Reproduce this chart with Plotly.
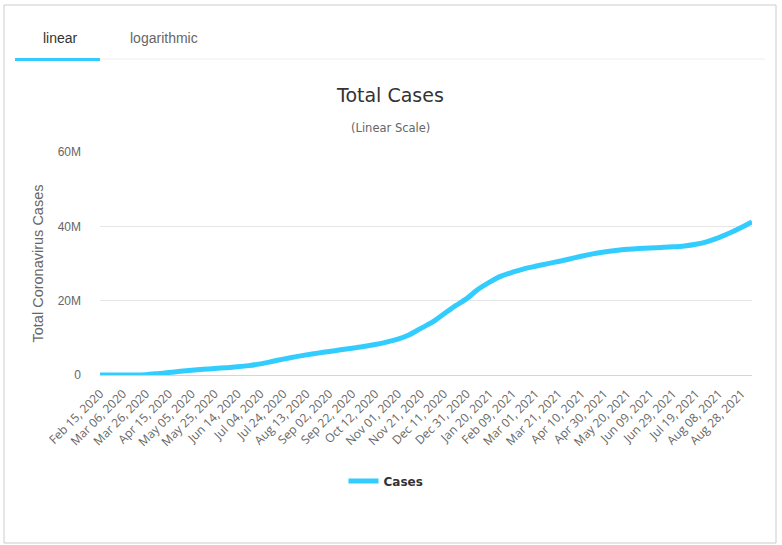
import plotly.graph_objects as go

# ---- data (millions of total cases) ----
dates = [
    "2020-02-15", "2020-02-25", "2020-03-06", "2020-03-16", "2020-03-26", "2020-04-05",
    "2020-04-15", "2020-04-25", "2020-05-05", "2020-05-15", "2020-05-25", "2020-06-04",
    "2020-06-14", "2020-06-24", "2020-07-04", "2020-07-14", "2020-07-24", "2020-08-03",
    "2020-08-13", "2020-08-23", "2020-09-02", "2020-09-12", "2020-09-22", "2020-10-02",
    "2020-10-12", "2020-10-22", "2020-11-01", "2020-11-11", "2020-11-21", "2020-12-01",
    "2020-12-11", "2020-12-21", "2020-12-31", "2021-01-10", "2021-01-20", "2021-01-30",
    "2021-02-09", "2021-02-19", "2021-03-01", "2021-03-11", "2021-03-21", "2021-03-31",
    "2021-04-10", "2021-04-20", "2021-04-30", "2021-05-10", "2021-05-20", "2021-05-30",
    "2021-06-09", "2021-06-19", "2021-06-29", "2021-07-09", "2021-07-19", "2021-07-29",
    "2021-08-08", "2021-08-18", "2021-08-28", "2021-09-06",
]
cases_m = [
    0.00002, 0.0001, 0.0003, 0.005, 0.09, 0.35,
    0.66, 0.98, 1.27, 1.52, 1.75, 1.98,
    2.20, 2.52, 3.00, 3.62, 4.28, 4.88,
    5.42, 5.88, 6.32, 6.78, 7.22, 7.66,
    8.20, 8.85, 9.65, 10.85, 12.55, 14.20,
    16.40, 18.60, 20.55, 23.05, 25.00, 26.60,
    27.65, 28.55, 29.25, 29.90, 30.55, 31.20,
    31.95, 32.60, 33.10, 33.50, 33.82, 34.02,
    34.20, 34.33, 34.48, 34.73, 35.18, 35.90,
    36.95, 38.25, 39.75, 41.20,
]
cases = [v * 1e6 for v in cases_m]

tick_dates = [
    "2020-02-15", "2020-03-06", "2020-03-26", "2020-04-15", "2020-05-05", "2020-05-25",
    "2020-06-14", "2020-07-04", "2020-07-24", "2020-08-13", "2020-09-02", "2020-09-22",
    "2020-10-12", "2020-11-01", "2020-11-21", "2020-12-11", "2020-12-31", "2021-01-20",
    "2021-02-09", "2021-03-01", "2021-03-21", "2021-04-10", "2021-04-30", "2021-05-20",
    "2021-06-09", "2021-06-29", "2021-07-19", "2021-08-08", "2021-08-28",
]
tick_labels = [
    "Feb 15, 2020", "Mar 06, 2020", "Mar 26, 2020", "Apr 15, 2020", "May 05, 2020", "May 25, 2020",
    "Jun 14, 2020", "Jul 04, 2020", "Jul 24, 2020", "Aug 13, 2020", "Sep 02, 2020", "Sep 22, 2020",
    "Oct 12, 2020", "Nov 01, 2020", "Nov 21, 2020", "Dec 11, 2020", "Dec 31, 2020", "Jan 20, 2021",
    "Feb 09, 2021", "Mar 01, 2021", "Mar 21, 2021", "Apr 10, 2021", "Apr 30, 2021", "May 20, 2021",
    "Jun 09, 2021", "Jun 29, 2021", "Jul 19, 2021", "Aug 08, 2021", "Aug 28, 2021",
]
y_ticks = [0, 20e6, 40e6, 60e6]
y_tick_labels = ["0", "20M", "40M", "60M"]

W, H = 782, 545
L, R, T, B = 100, 30, 152, 170
PW, PH = W - L - R, H - T - B


def px(x):
    return (x - L) / PW


def py(y):
    return (H - B - y) / PH


LINE = "#33ccff"

fig = go.Figure()
fig.add_trace(go.Scatter(
    x=dates, y=cases, mode="lines", name="Cases",
    line=dict(color=LINE, width=5, shape="spline", smoothing=0.8),
))

shapes = [
    # outer border
    dict(type="rect", xref="paper", yref="paper", x0=px(4), x1=px(776), y0=py(543), y1=py(5),
         line=dict(color="#cccccc", width=1), layer="below"),
    # tab bar base line
    dict(type="line", xref="paper", yref="paper", x0=px(100), x1=px(765), y0=py(59), y1=py(59),
         line=dict(color="#eeeeee", width=1)),
    # active tab underline
    dict(type="line", xref="paper", yref="paper", x0=px(15), x1=px(100), y0=py(59.5), y1=py(59.5),
         line=dict(color=LINE, width=3)),
]

annotations = [
    dict(text="linear", x=px(60), y=py(38), xref="paper", yref="paper", showarrow=False,
         font=dict(family="Liberation Sans, Arial", size=14, color="#333333"),
         xanchor="center", yanchor="middle"),
    dict(text="logarithmic", x=px(164), y=py(38), xref="paper", yref="paper", showarrow=False,
         font=dict(family="Liberation Sans, Arial", size=14, color="#666666"),
         xanchor="center", yanchor="middle"),
    dict(text="Total Cases", x=px(390), y=py(95), xref="paper", yref="paper", showarrow=False,
         font=dict(family="DejaVu Sans", size=19, color="#333333"),
         xanchor="center", yanchor="middle"),
    dict(text="(Linear Scale)", x=px(390), y=py(128), xref="paper", yref="paper", showarrow=False,
         font=dict(family="DejaVu Sans", size=11.5, color="#666666"),
         xanchor="center", yanchor="middle"),
]

fig.update_layout(
    width=W, height=H,
    margin=dict(l=L, r=R, t=T, b=B, pad=0),
    paper_bgcolor="white", plot_bgcolor="white",
    showlegend=True,
    legend=dict(
        orientation="h", x=px(386), y=py(481), xanchor="center", yanchor="middle",
        font=dict(family="DejaVu Sans", size=12, color="#333333", weight="bold"),
        itemwidth=30,
    ),
    shapes=shapes,
    annotations=annotations,
    xaxis=dict(
        type="date",
        range=["2020-02-15", "2021-09-06"],
        tickvals=tick_dates, ticktext=tick_labels,
        tickangle=-45,
        tickfont=dict(family="Open Sans", size=12, color="#666666"),
        showgrid=False, zeroline=False,
        showline=True, linecolor="#ccd6eb", linewidth=1,
        ticks="", ticklen=0, ticklabelstandoff=6,
    ),
    yaxis=dict(
        range=[0, 60e6],
        tickvals=y_ticks, ticktext=y_tick_labels,
        tickfont=dict(family="Liberation Sans, Arial", size=12, color="#666666"),
        showgrid=True, gridcolor="#e6e6e6", gridwidth=1,
        zeroline=False, showline=False,
        ticks="", ticklabelstandoff=18,
        title=dict(text="Total Coronavirus Cases", standoff=10,
                   font=dict(family="Liberation Sans, Arial", size=14.5, color="#666666")),
    ),
)

fig.write_html("out.html")
